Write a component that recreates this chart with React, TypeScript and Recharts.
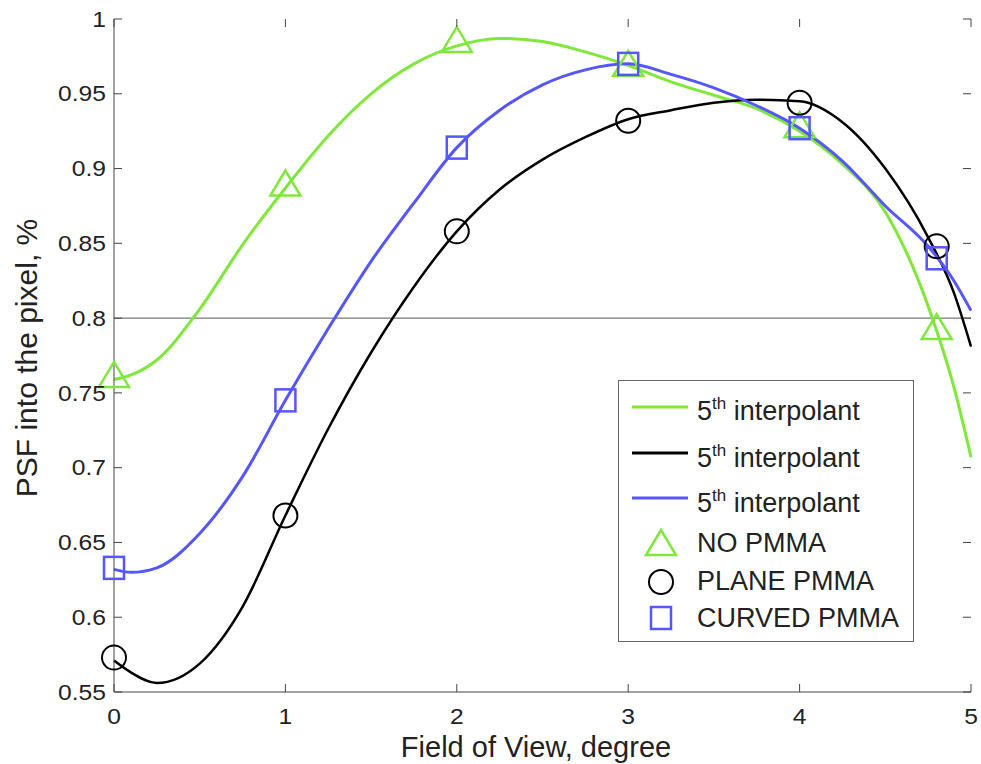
import React from "react";
import { ComposedChart, Line, Scatter, XAxis, YAxis, ReferenceLine, Label } from "recharts";

// fitted curves
const curveX = [0, 0.1, 0.25, 0.5, 0.75, 1, 1.25, 1.5, 1.75, 2, 2.25, 2.5, 2.75, 3, 3.25, 3.5, 3.75, 4, 4.25, 4.5, 4.75, 4.9, 5];
const noPmmaFit = [0.759, 0.762, 0.772, 0.806, 0.849, 0.887, 0.922, 0.95, 0.97, 0.982, 0.987, 0.985, 0.978, 0.969, 0.958, 0.949, 0.94, 0.925, 0.903, 0.871, 0.808, 0.754, 0.707];
const planeFit = [0.571, 0.563, 0.556, 0.569, 0.607, 0.668, 0.726, 0.777, 0.821, 0.858, 0.886, 0.906, 0.921, 0.933, 0.939, 0.944, 0.946, 0.945, 0.931, 0.9, 0.854, 0.817, 0.781];
const curvedFit = [0.632, 0.63, 0.633, 0.656, 0.694, 0.745, 0.793, 0.838, 0.877, 0.914, 0.939, 0.956, 0.966, 0.97, 0.963, 0.954, 0.942, 0.927, 0.905, 0.875, 0.848, 0.825, 0.805];

// measured points
const markerX = [0, 1, 2, 3, 4, 4.8];
const noPmma = [0.76, 0.888, 0.984, 0.968, 0.927, 0.792];
const planePmma = [0.573, 0.668, 0.858, 0.932, 0.944, 0.848];
const curvedPmma = [0.633, 0.745, 0.914, 0.97, 0.927, 0.84];

const xTicks = [0, 1, 2, 3, 4, 5];
const yTicks = [0.55, 0.6, 0.65, 0.7, 0.75, 0.8, 0.85, 0.9, 0.95, 1];

const GREEN = "#7fe83a";
const BLACK = "#000000";
const BLUE = "#5656ff";
const AXIS = "#444";
const FONT = "'Liberation Sans', Arial, sans-serif";

// plot box edges, used for the inward tick marks on all four sides
const BOX = { left: 114, right: 971, top: 19, bottom: 692 };
const TICK = 8;

const toPts = (xs: number[], ys: number[]) => xs.map((x, i) => ({ x, y: ys[i] }));

function Triangle({ cx, cy }: any) {
  return (
    <polygon
      points={`${cx},${cy - 16} ${cx - 15},${cy + 9} ${cx + 15},${cy + 9}`}
      fill="none"
      stroke={GREEN}
      strokeWidth={2.5}
    />
  );
}

function Circle({ cx, cy }: any) {
  return <circle cx={cx} cy={cy} r={12} fill="none" stroke={BLACK} strokeWidth={2} />;
}

function Square({ cx, cy }: any) {
  return <rect x={cx - 10} y={cy - 11} width={20} height={22} fill="none" stroke={BLUE} strokeWidth={2.5} />;
}

function YTick({ y, payload }: any) {
  return (
    <g>
      <line x1={BOX.left} x2={BOX.left + TICK} y1={y} y2={y} stroke={AXIS} />
      <line x1={BOX.right} x2={BOX.right - TICK} y1={y} y2={y} stroke={AXIS} />
      <text
        transform={`translate(${BOX.left - 8},${y}) scale(1.12,1)`}
        textAnchor="end"
        dy="0.35em"
        fontSize={22}
        fontFamily={FONT}
        fill="#222"
      >
        {payload.value}
      </text>
    </g>
  );
}

function XTick({ x, payload }: any) {
  return (
    <g>
      <line x1={x} x2={x} y1={BOX.bottom} y2={BOX.bottom - TICK} stroke={AXIS} />
      <line x1={x} x2={x} y1={BOX.top} y2={BOX.top + TICK} stroke={AXIS} />
      <text
        transform={`translate(${x},${BOX.bottom + 24}) scale(1.12,1)`}
        textAnchor="middle"
        dy="0.35em"
        fontSize={22}
        fontFamily={FONT}
        fill="#222"
      >
        {payload.value}
      </text>
    </g>
  );
}

function LegendBox() {
  const fit = (y: number, base: number, color: string) => (
    <g>
      <line x1={14} x2={70} y1={y} y2={y} stroke={color} strokeWidth={3} />
      <text x={79} y={base} fontSize={27} fontFamily={FONT} fill="#222">
        <tspan>5</tspan>
        <tspan dy={-11} fontSize={17}>th</tspan>
        <tspan dy={11}> interpolant</tspan>
      </text>
    </g>
  );
  return (
    <div
      style={{
        position: "absolute",
        left: 618,
        top: 380,
        width: 296,
        height: 262,
        border: "1px solid #666",
        background: "#fff",
        boxSizing: "border-box",
      }}
    >
      <svg width={296} height={262} style={{ position: "absolute", left: -1, top: -1 }}>
        {fit(27, 40, GREEN)}
        {fit(73, 87, BLACK)}
        {fit(118, 132, BLUE)}
        <Triangle cx={43} cy={166} />
        <text x={79} y={172} fontSize={27} fontFamily={FONT} fill="#222">NO PMMA</text>
        <Circle cx={43} cy={202} />
        <text x={79} y={210} fontSize={27} fontFamily={FONT} fill="#222">PLANE PMMA</text>
        <Square cx={43} cy={238} />
        <text x={79} y={247} fontSize={27} fontFamily={FONT} fill="#222">CURVED PMMA</text>
      </svg>
    </div>
  );
}

export default function App() {
  return (
    <div style={{ position: "absolute", left: 0, top: 0, width: 981, height: 764, background: "#fff" }}>
      <ComposedChart width={981} height={764} margin={{ top: 19, right: 10, bottom: 0, left: 0 }}>
        <XAxis
          xAxisId="b"
          dataKey="x"
          type="number"
          domain={[0, 5]}
          ticks={xTicks}
          height={72}
          stroke={AXIS}
          tickLine={false}
          tick={<XTick />}
        >
          <Label
            content={() => (
              <text x={536} y={757} textAnchor="middle" fontSize={29} fontFamily={FONT} fill="#222">
                Field of View, degree
              </text>
            )}
          />
        </XAxis>
        <XAxis
          xAxisId="t"
          orientation="top"
          type="number"
          domain={[0, 5]}
          height={0}
          stroke={AXIS}
          tickLine={false}
          tick={false}
        />
        <YAxis
          yAxisId="l"
          type="number"
          domain={[0.55, 1]}
          ticks={yTicks}
          width={114}
          stroke={AXIS}
          tickLine={false}
          tick={<YTick />}
        >
          <Label
            content={() => (
              <text
                transform="translate(37,358) rotate(-90)"
                textAnchor="middle"
                fontSize={30}
                fontFamily={FONT}
                fill="#222"
              >
                PSF into the pixel, %
              </text>
            )}
          />
        </YAxis>
        <YAxis
          yAxisId="r"
          orientation="right"
          type="number"
          domain={[0.55, 1]}
          width={0}
          stroke={AXIS}
          tickLine={false}
          tick={false}
        />
        <ReferenceLine xAxisId="b" yAxisId="l" y={0.8} stroke="#555" strokeWidth={1} />
        <Line xAxisId="b" yAxisId="l" data={toPts(curveX, noPmmaFit)} dataKey="y" type="monotone" stroke={GREEN} strokeWidth={3} dot={false} isAnimationActive={false} />
        <Line xAxisId="b" yAxisId="l" data={toPts(curveX, planeFit)} dataKey="y" type="monotone" stroke={BLACK} strokeWidth={2.5} dot={false} isAnimationActive={false} />
        <Line xAxisId="b" yAxisId="l" data={toPts(curveX, curvedFit)} dataKey="y" type="monotone" stroke={BLUE} strokeWidth={3} dot={false} isAnimationActive={false} />
        <Scatter xAxisId="b" yAxisId="l" data={toPts(markerX, noPmma)} dataKey="y" shape={<Triangle />} isAnimationActive={false} />
        <Scatter xAxisId="b" yAxisId="l" data={toPts(markerX, planePmma)} dataKey="y" shape={<Circle />} isAnimationActive={false} />
        <Scatter xAxisId="b" yAxisId="l" data={toPts(markerX, curvedPmma)} dataKey="y" shape={<Square />} isAnimationActive={false} />
      </ComposedChart>
      <LegendBox />
    </div>
  );
}
